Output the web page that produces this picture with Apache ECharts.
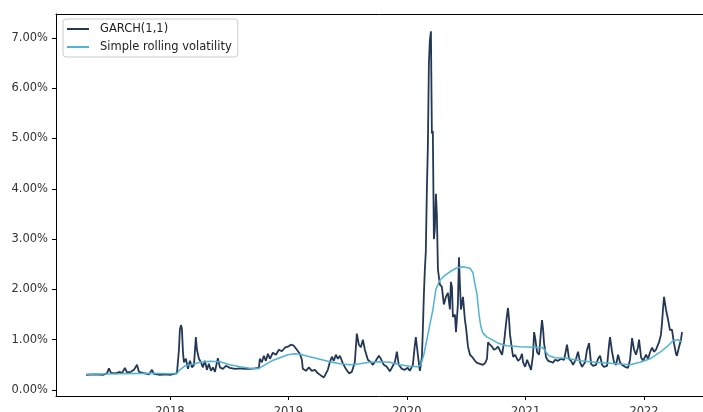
<!DOCTYPE html>
<html>
<head>
<meta charset="utf-8">
<script src="https://cdn.jsdelivr.net/npm/echarts@6/dist/echarts.min.js"></script>
<style>
  html, body { margin: 0; background: #fff; }
  #chart { width: 703px; height: 412px; }
</style>
</head>
<body>
<div id="chart"></div>
<script>
// dates are decimal years, volatility is in percent
const garchYears = [
  2017.291, 2017.367, 2017.435, 2017.468, 2017.485, 2017.502, 2017.544, 2017.578, 2017.595, 2017.620,
  2017.637, 2017.671, 2017.696, 2017.722, 2017.738, 2017.789, 2017.823, 2017.848, 2017.865, 2017.916,
  2017.966, 2018.000, 2018.034, 2018.059, 2018.076, 2018.084, 2018.093, 2018.101, 2018.110, 2018.118,
  2018.135, 2018.152, 2018.169, 2018.186, 2018.203, 2018.219, 2018.228, 2018.245, 2018.262, 2018.278,
  2018.295, 2018.312, 2018.329, 2018.346, 2018.363, 2018.380, 2018.397, 2018.405, 2018.422, 2018.447,
  2018.473, 2018.506, 2018.549, 2018.591, 2018.633, 2018.675, 2018.717, 2018.751, 2018.759, 2018.776,
  2018.793, 2018.810, 2018.827, 2018.844, 2018.869, 2018.895, 2018.920, 2018.945, 2018.970, 2018.996,
  2019.021, 2019.046, 2019.072, 2019.097, 2019.114, 2019.122, 2019.148, 2019.173, 2019.198, 2019.224,
  2019.249, 2019.274, 2019.300, 2019.316, 2019.333, 2019.350, 2019.367, 2019.384, 2019.401, 2019.418,
  2019.435, 2019.460, 2019.485, 2019.511, 2019.536, 2019.561, 2019.578, 2019.586, 2019.595, 2019.612,
  2019.629, 2019.646, 2019.671, 2019.696, 2019.713, 2019.738, 2019.764, 2019.781, 2019.806, 2019.831,
  2019.857, 2019.873, 2019.899, 2019.916, 2019.932, 2019.958, 2019.983, 2020.008, 2020.025, 2020.051,
  2020.068, 2020.076, 2020.093, 2020.110, 2020.127, 2020.135, 2020.143, 2020.152, 2020.160, 2020.169,
  2020.177, 2020.186, 2020.194, 2020.203, 2020.211, 2020.219, 2020.228, 2020.236, 2020.245, 2020.253,
  2020.262, 2020.278, 2020.295, 2020.312, 2020.329, 2020.346, 2020.363, 2020.371, 2020.380, 2020.388,
  2020.405, 2020.414, 2020.430, 2020.439, 2020.447, 2020.456, 2020.473, 2020.489, 2020.498, 2020.515,
  2020.532, 2020.549, 2020.574, 2020.591, 2020.616, 2020.641, 2020.658, 2020.675, 2020.684, 2020.700,
  2020.717, 2020.734, 2020.751, 2020.768, 2020.785, 2020.802, 2020.819, 2020.827, 2020.844, 2020.852,
  2020.861, 2020.869, 2020.886, 2020.895, 2020.911, 2020.937, 2020.954, 2020.970, 2020.979, 2020.996,
  2021.013, 2021.030, 2021.046, 2021.063, 2021.072, 2021.080, 2021.097, 2021.114, 2021.131, 2021.139,
  2021.148, 2021.156, 2021.173, 2021.190, 2021.215, 2021.232, 2021.249, 2021.274, 2021.300, 2021.325,
  2021.342, 2021.350, 2021.367, 2021.384, 2021.401, 2021.426, 2021.443, 2021.460, 2021.477, 2021.502,
  2021.519, 2021.536, 2021.553, 2021.570, 2021.595, 2021.612, 2021.629, 2021.646, 2021.662, 2021.688,
  2021.705, 2021.713, 2021.730, 2021.747, 2021.764, 2021.781, 2021.797, 2021.814, 2021.840, 2021.865,
  2021.882, 2021.899, 2021.916, 2021.932, 2021.949, 2021.958, 2021.975, 2021.992, 2022.017, 2022.034,
  2022.051, 2022.068, 2022.084, 2022.101, 2022.118, 2022.127, 2022.143, 2022.152, 2022.160, 2022.169,
  2022.186, 2022.203, 2022.219, 2022.236, 2022.253, 2022.270, 2022.278, 2022.295, 2022.312, 2022.321
];
const garchVol = [
  0.30, 0.31, 0.30, 0.33, 0.43, 0.34, 0.33, 0.36, 0.33, 0.44,
  0.35, 0.36, 0.40, 0.50, 0.36, 0.33, 0.31, 0.40, 0.32, 0.30,
  0.31, 0.30, 0.32, 0.33, 0.80, 1.20, 1.29, 1.22, 0.75, 0.55,
  0.62, 0.42, 0.58, 0.45, 0.50, 1.05, 0.80, 0.62, 0.55, 0.45,
  0.58, 0.40, 0.52, 0.38, 0.45, 0.36, 0.55, 0.63, 0.45, 0.42,
  0.48, 0.44, 0.42, 0.43, 0.42, 0.42, 0.43, 0.44, 0.62, 0.55,
  0.68, 0.58, 0.72, 0.62, 0.74, 0.70, 0.80, 0.77, 0.84, 0.86,
  0.90, 0.88, 0.80, 0.72, 0.60, 0.42, 0.38, 0.45, 0.38, 0.40,
  0.33, 0.29, 0.25, 0.27, 0.40, 0.55, 0.66, 0.58, 0.70, 0.62,
  0.68, 0.53, 0.42, 0.33, 0.36, 0.55, 1.12, 1.15, 0.90, 0.85,
  1.00, 0.80, 0.60, 0.55, 0.50, 0.58, 0.68, 0.62, 0.50, 0.46,
  0.37, 0.36, 0.55, 0.76, 0.50, 0.42, 0.40, 0.44, 0.38, 0.50,
  0.90, 1.05, 0.70, 0.38, 0.65, 1.20, 1.85, 2.40, 2.75, 4.00,
  4.80, 6.50, 6.95, 7.13, 5.10, 5.15, 3.00, 3.20, 3.90, 3.50,
  2.40, 2.10, 2.05, 1.70, 1.85, 1.93, 1.60, 2.15, 2.05, 1.45,
  1.50, 1.15, 1.70, 2.64, 2.10, 1.60, 1.85, 1.40, 1.25, 0.86,
  0.70, 0.66, 0.58, 0.54, 0.52, 0.50, 0.53, 0.62, 0.95, 0.90,
  0.86, 0.80, 0.82, 0.86, 0.78, 0.70, 0.95, 1.13, 1.50, 1.63,
  1.40, 1.10, 0.80, 0.66, 0.70, 0.58, 0.62, 0.72, 0.55, 0.46,
  0.60, 0.50, 0.40, 0.70, 1.15, 1.05, 0.75, 0.70, 1.20, 1.39,
  1.20, 0.93, 0.65, 0.58, 0.56, 0.54, 0.60, 0.58, 0.62, 0.60,
  0.80, 0.90, 0.62, 0.58, 0.50, 0.62, 0.76, 0.55, 0.46, 0.55,
  0.80, 0.93, 0.52, 0.48, 0.50, 0.62, 0.68, 0.50, 0.46, 0.48,
  0.90, 1.05, 0.76, 0.55, 0.50, 0.70, 0.55, 0.50, 0.46, 0.44,
  0.60, 1.03, 0.80, 0.70, 0.85, 1.00, 0.65, 0.58, 0.70, 0.62,
  0.75, 0.84, 0.76, 0.80, 0.90, 0.95, 1.10, 1.33, 1.60, 1.85,
  1.59, 1.40, 1.19, 1.20, 0.93, 0.72, 0.68, 0.85, 1.00, 1.15
];
const rollingYears = [
  2017.291, 2017.578, 2017.831, 2018.000, 2018.059, 2018.084, 2018.127, 2018.169, 2018.211, 2018.253,
  2018.338, 2018.422, 2018.506, 2018.591, 2018.675, 2018.743, 2018.802, 2018.861, 2018.928, 2018.996,
  2019.055, 2019.097, 2019.181, 2019.266, 2019.350, 2019.435, 2019.519, 2019.603, 2019.688, 2019.772,
  2019.857, 2019.941, 2020.025, 2020.093, 2020.118, 2020.143, 2020.169, 2020.194, 2020.219, 2020.245,
  2020.278, 2020.321, 2020.363, 2020.414, 2020.473, 2020.532, 2020.557, 2020.574, 2020.591, 2020.608,
  2020.624, 2020.641, 2020.675, 2020.717, 2020.768, 2020.844, 2020.954, 2021.080, 2021.148, 2021.173,
  2021.198, 2021.249, 2021.350, 2021.460, 2021.586, 2021.713, 2021.882, 2021.966, 2022.051, 2022.135,
  2022.194, 2022.245, 2022.287, 2022.321
];
const rollingVol = [
  0.31, 0.32, 0.33, 0.32, 0.33, 0.40, 0.48, 0.50, 0.52, 0.55,
  0.57, 0.56, 0.50, 0.46, 0.43, 0.42, 0.50, 0.58, 0.64, 0.70,
  0.72, 0.71, 0.66, 0.61, 0.56, 0.52, 0.50, 0.52, 0.55, 0.56,
  0.55, 0.50, 0.47, 0.46, 0.50, 0.70, 1.00, 1.30, 1.59, 2.00,
  2.18, 2.28, 2.35, 2.42, 2.45, 2.42, 2.33, 2.10, 1.90, 1.50,
  1.25, 1.13, 1.05, 1.00, 0.93, 0.88, 0.86, 0.85, 0.84, 0.75,
  0.68, 0.64, 0.63, 0.58, 0.55, 0.53, 0.50, 0.55, 0.62, 0.75,
  0.86, 0.98, 1.00, 0.95
];
const seriesNames = ["GARCH(1,1)", "Simple rolling volatility"];
// visible x range: the plot runs past the right edge of the picture
const xRange = [2017.038, 2022.498];
const yRange = [-0.12, 7.475];

function yearToTime(y) {
  const yr = Math.floor(y);
  const start = Date.UTC(yr, 0, 1);
  return start + (y - yr) * (Date.UTC(yr + 1, 0, 1) - start);
}

function pairs(years, vals) {
  return years.map((y, i) => [yearToTime(y), vals[i]]);
}

const font = "DejaVu Sans";
const spine = { onZero: false, lineStyle: { color: "#000", width: 1 } };
const chart = echarts.init(document.getElementById("chart"));

chart.setOption({
  animation: false,
  useUTC: true,
  backgroundColor: "#fff",
  grid: { left: 56, top: 14, right: 0, bottom: 16, outerBoundsMode: "none" },
  legend: {
    data: seriesNames,
    orient: "vertical",
    left: 63, top: 19,
    icon: "rect",
    itemWidth: 22, itemHeight: 2, itemGap: 4,
    padding: [3, 6, 3, 4],
    borderColor: "#ccc", borderWidth: 1, borderRadius: 3,
    backgroundColor: "rgba(255,255,255,0.8)",
    textStyle: { fontFamily: font, fontSize: 11.5, color: "#222", lineHeight: 14, padding: [0, 0, 0, 6] }
  },
  xAxis: [
    {
      type: "time",
      min: yearToTime(xRange[0]),
      max: yearToTime(xRange[1]),
      minInterval: 365 * 24 * 3600 * 1000,
      splitLine: { show: false },
      axisLine: spine,
      axisTick: { length: 4, lineStyle: { color: "#000" } },
      axisLabel: {
        formatter: "{yyyy}", margin: 10,
        showMinLabel: false, showMaxLabel: false,
        fontFamily: font, fontSize: 11.5, color: "#333"
      }
    },
    {
      // top spine only
      type: "time",
      position: "top",
      min: yearToTime(xRange[0]),
      max: yearToTime(xRange[1]),
      axisLine: spine,
      axisTick: { show: false },
      axisLabel: { show: false },
      splitLine: { show: false }
    }
  ],
  yAxis: {
    type: "value",
    min: yRange[0], max: yRange[1],
    splitNumber: 8,
    splitLine: { show: false },
    axisLine: Object.assign({ show: true }, spine),
    axisTick: { show: true, length: 4, lineStyle: { color: "#000" } },
    axisLabel: {
      margin: 8,
      showMinLabel: false, showMaxLabel: false,
      formatter: v => Math.abs(v - Math.round(v)) < 1e-6 ? v.toFixed(2) + "%" : "",
      fontFamily: font, fontSize: 11.5, color: "#333"
    }
  },
  series: [
    {
      name: seriesNames[0],
      type: "line",
      data: pairs(garchYears, garchVol),
      showSymbol: false,
      color: "#243856",
      lineStyle: { width: 1.8 }
    },
    {
      name: seriesNames[1],
      type: "line",
      data: pairs(rollingYears, rollingVol),
      showSymbol: false,
      color: "#4fb3d4",
      lineStyle: { width: 1.5 }
    }
  ]
});
</script>
</body>
</html>
